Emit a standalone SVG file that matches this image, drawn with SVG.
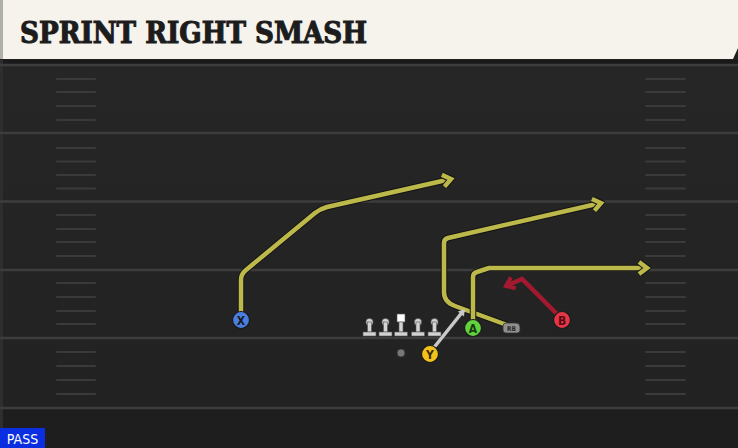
<svg xmlns="http://www.w3.org/2000/svg" width="738" height="448" viewBox="0 0 738 448">
<defs>
<style>
.hash{stroke:#3a3a3a;stroke-width:2;stroke-linecap:round}
.yl{stroke:#3d3d3d;stroke-width:2.5}
.rt-o{fill:none;stroke:#141414;stroke-width:6.5;stroke-linejoin:round;stroke-linecap:round}
.rt{fill:none;stroke:#bcb84a;stroke-width:4.5;stroke-linejoin:round;stroke-linecap:round}
.rd{fill:none;stroke:#a3192f;stroke-width:4.5;stroke-linejoin:miter;stroke-linecap:butt}
.gy{fill:none;stroke:#c9c9c9;stroke-width:3.5;stroke-linecap:butt}
.lbl{font-family:"DejaVu Sans Condensed","DejaVu Sans",sans-serif;font-weight:bold;font-size:12px;text-anchor:middle}
.ol{fill:#d2d2d2;stroke:#555;stroke-width:0.6}
</style>
<marker id="ahY" markerUnits="userSpaceOnUse" viewBox="-12 -8 16 16" markerWidth="16" markerHeight="16" refX="0" refY="0" orient="auto">
<polyline points="-8,-6 0,0 -8,6" fill="none" stroke="#141414" stroke-width="6.5" stroke-linejoin="miter"/>
<polyline points="-8,-6 0,0 -8,6" fill="none" stroke="#bcb84a" stroke-width="4.5" stroke-linejoin="miter"/>
</marker>
<marker id="ahR" markerUnits="userSpaceOnUse" viewBox="-12 -8 16 16" markerWidth="16" markerHeight="16" refX="0" refY="0" orient="auto">
<polyline points="-8,-6 0,0 -8,6" fill="none" stroke="#a3192f" stroke-width="4" stroke-linejoin="miter"/>
</marker>
<marker id="ahG" markerUnits="userSpaceOnUse" viewBox="-8 -6 10 12" markerWidth="10" markerHeight="12" refX="0" refY="0" orient="auto">
<polygon points="-5,-4 1,0 -5,4" fill="#c9c9c9"/>
</marker>
<linearGradient id="bg" x1="0" y1="0" x2="0" y2="1">
<stop offset="0" stop-color="#262626"/>
<stop offset="1" stop-color="#222222"/>
</linearGradient>
</defs>

<!-- field -->
<rect x="0" y="0" width="738" height="448" fill="#202020"/>
<rect x="0" y="60" width="738" height="348" fill="url(#bg)"/>
<rect x="0" y="408" width="738" height="40" fill="#1e1e1e"/>
<rect x="0" y="60" width="738" height="4" fill="#1a1a1a"/>
<rect x="0" y="60" width="3" height="388" fill="#2e2e2e"/>

<g id="yardlines">
<line class="yl" x1="0" y1="65" x2="738" y2="65"/>
<line class="yl" x1="0" y1="133" x2="738" y2="133"/>
<line class="yl" x1="0" y1="201.5" x2="738" y2="201.5"/>
<line class="yl" x1="0" y1="270" x2="738" y2="270"/>
<line class="yl" x1="0" y1="338" x2="738" y2="338"/>
<line class="yl" x1="0" y1="408" x2="738" y2="408"/>
</g>

<g id="hashes">
<path class="hash" d="M57,79H95M57,92H95M57,106H95M57,120H95M57,148H95M57,161.5H95M57,175H95M57,188.5H95M57,215H95M57,229H95M57,242H95M57,256H95M57,283H95M57,297H95M57,311H95M57,324H95M57,352H95M57,366H95M57,380H95M57,394H95"/>
<path class="hash" d="M646,79H685M646,92H685M646,106H685M646,120H685M646,148H685M646,161.5H685M646,175H685M646,188.5H685M646,215H685M646,229H685M646,242H685M646,256H685M646,283H685M646,297H685M646,311H685M646,324H685M646,352H685M646,366H685M646,380H685M646,394H685"/>
</g>

<!-- title banner -->
<g id="title">
<polygon points="0,0 738,0 738,48 733,59 0,59" fill="#f5f3ec"/>
<rect x="0" y="0" width="3" height="59" fill="#b0b0aa"/>
<text x="20" y="43" font-family="'DejaVu Serif',serif" font-weight="bold" font-stretch="condensed" font-size="29" fill="#1c1c1c" stroke="#1c1c1c" stroke-width="1" textLength="347" lengthAdjust="spacingAndGlyphs">SPRINT RIGHT SMASH</text>
</g>

<!-- connectors / routes -->
<g id="routes">
<path class="rt-o" d="M241,312 L241,280 Q241,274 246,270 L315,213 Q320,209 327,207 L451,179"/>
<path class="rt" d="M241,312 L241,280 Q241,274 246,270 L315,213 Q320,209 327,207 L451,179" marker-end="url(#ahY)"/>
<path class="rt-o" d="M507,325 L455,306 Q444,302 444,292 L444,243 Q444,239 448,238 L601,203"/>
<path class="rt" d="M507,325 L455,306 Q444,302 444,292 L444,243 Q444,239 448,238 L601,203" marker-end="url(#ahY)"/>
<path class="rt-o" d="M473,320 L473,277 Q473,273 477,272 L489,268 L647,268"/>
<path class="rt" d="M473,320 L473,277 Q473,273 477,272 L489,268 L647,268" marker-end="url(#ahY)"/>
<path class="rd" d="M559,316 L522,279 L506,286" marker-end="url(#ahR)"/>
<path class="gy" d="M432,350 L464,310" marker-end="url(#ahG)"/>
</g>

<!-- offensive line -->
<g id="line">
<g id="lt"><circle class="ol" cx="369.5" cy="322" r="3.6"/><rect class="ol" x="367.5" y="322" width="4" height="10"/><rect class="ol" x="363" y="332" width="13" height="4"/></g>
<g id="lg"><circle class="ol" cx="385.5" cy="322" r="3.6"/><rect class="ol" x="383.5" y="322" width="4" height="10"/><rect class="ol" x="379" y="332" width="13" height="4"/></g>
<g id="c"><rect x="397" y="314" width="8" height="8" fill="#ffffff" stroke="#555" stroke-width="0.6"/><rect class="ol" x="399" y="322" width="4" height="10"/><rect class="ol" x="394.5" y="332" width="13" height="4"/></g>
<g id="rg"><circle class="ol" cx="418" cy="322" r="3.6"/><rect class="ol" x="416" y="322" width="4" height="10"/><rect class="ol" x="411.5" y="332" width="13" height="4"/></g>
<g id="rt"><circle class="ol" cx="434.5" cy="322" r="3.6"/><rect class="ol" x="432.5" y="322" width="4" height="10"/><rect class="ol" x="428" y="332" width="13" height="4"/></g>
</g>

<g id="qb"><circle cx="401" cy="353" r="4" fill="#777777" stroke="#333" stroke-width="0.8"/></g>

<g id="rb">
<path d="M506,323 L516,323 Q520,323 520,327 L520,330 Q520,333 517,333 L506,333 Q503,333 503,330 L503,326 Q503,323 506,323 Z" fill="#8f8f8f" stroke="#333" stroke-width="0.8"/>
<text x="511.5" y="331" font-family="'DejaVu Sans Condensed','DejaVu Sans',sans-serif" font-weight="bold" font-size="6.5" fill="#2a2a2a" text-anchor="middle">RB</text>
</g>

<g id="x">
<circle cx="241" cy="320" r="8.5" fill="#4a7ee0" stroke="#1a1a1a" stroke-width="1.2"/>
<text class="lbl" x="241" y="324.5" fill="#1a1a1a">X</text>
</g>
<g id="a">
<circle cx="473" cy="328" r="8.5" fill="#62d23e" stroke="#1a1a1a" stroke-width="1.2"/>
<text class="lbl" x="473" y="332.5" fill="#1a3a10">A</text>
</g>
<g id="y">
<circle cx="430" cy="354" r="8.5" fill="#f2c21d" stroke="#1a1a1a" stroke-width="1.2"/>
<text class="lbl" x="430" y="358.5" fill="#3a2a00">Y</text>
</g>
<g id="b">
<circle cx="562" cy="320" r="8.5" fill="#e33747" stroke="#1a1a1a" stroke-width="1.2"/>
<text class="lbl" x="562" y="324.5" fill="#5a0a12">B</text>
</g>

<g id="pass">
<rect x="0" y="428" width="45" height="20" fill="#0b2fe0"/>
<text x="22.5" y="444" font-family="'DejaVu Sans Condensed','DejaVu Sans',sans-serif" font-size="14" fill="#ffffff" text-anchor="middle">PASS</text>
</g>
</svg>
